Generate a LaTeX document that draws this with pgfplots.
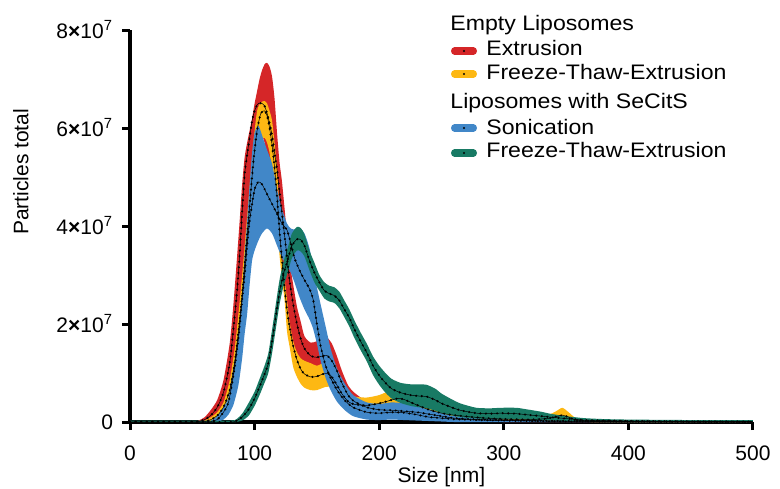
\documentclass[border=0pt]{standalone}
\usepackage{fontspec}
\setmainfont{Liberation Sans}
\usepackage{graphicx}
\usepackage{pgfplots}
\pgfplotsset{compat=1.18}
\usepgfplotslibrary{fillbetween}
\usepackage{pgfplotstable}

\definecolor{cRed}{RGB}{213,38,40}
\definecolor{cYel}{RGB}{253,184,19}
\definecolor{cBlu}{RGB}{65,135,200}
\definecolor{cGrn}{RGB}{24,122,100}

% Extrusion (empty liposomes): x, lower, mean, upper  (units 1e7)
\pgfplotstableread{
x lo mid up
0 0 0 0
50 0 0 0.01
55 0 0.01 0.03
60 0.01 0.05 0.1
65 0.04 0.14 0.25
70 0.1 0.3 0.45
75 0.25 0.6 0.85
80 0.6 1.2 1.6
83 1.0 1.9 2.4
86 1.5 2.7 3.4
88 2.0 3.4 4.1
90 2.6 4.3 4.85
92 3.3 5.05 5.4
94 4.0 5.45 5.7
96 4.6 5.8 5.95
98 5.1 6.15 6.2
100 5.5 6.35 6.5
102 5.75 6.47 6.75
104 5.9 6.51 7.0
106 5.85 6.5 7.18
108 5.7 6.45 7.3
110 5.45 6.3 7.33
112 5.15 6.1 7.25
114 4.8 5.85 7.05
116 4.4 5.5 6.6
118 4.0 5.15 5.9
120 3.6 4.7 5.3
122 3.2 4.25 4.9
125 2.6 3.6 4.1
128 2.0 2.9 3.3
131 1.6 2.4 2.8
134 1.25 2.0 2.35
137 1.0 1.7 2.05
140 0.9 1.5 1.75
145 0.9 1.35 1.62
150 0.95 1.32 1.65
155 1.0 1.35 1.72
158 1.0 1.36 1.73
162 0.9 1.25 1.6
166 0.7 1.05 1.35
170 0.5 0.8 1.05
175 0.3 0.55 0.75
180 0.2 0.42 0.6
190 0.12 0.3 0.42
200 0.1 0.25 0.38
210 0.1 0.24 0.37
220 0.08 0.22 0.35
230 0.06 0.2 0.32
240 0.05 0.16 0.28
250 0.03 0.12 0.2
260 0.02 0.08 0.14
280 0.01 0.05 0.09
300 0 0.04 0.07
320 0 0.03 0.05
350 0 0.02 0.04
400 0 0.01 0.03
450 0 0.01 0.02
500 0 0 0.01
}\redtab

% Freeze-Thaw-Extrusion (empty liposomes)
\pgfplotstableread{
x lo mid up
0 0 0 0
55 0 0 0.01
60 0 0.01 0.03
65 0.02 0.05 0.1
70 0.07 0.13 0.2
75 0.2 0.3 0.4
80 0.45 0.65 0.85
84 0.9 1.2 1.5
87 1.5 1.85 2.2
90 2.2 2.6 3.0
93 3.0 3.5 3.9
96 3.9 4.4 4.8
99 4.8 5.3 5.7
102 5.4 5.95 6.35
105 5.75 6.3 6.52
108 5.8 6.35 6.55
110 5.7 6.25 6.5
112 5.5 6.0 6.35
114 5.1 5.65 6.15
116 4.6 5.2 5.7
118 4.0 4.6 5.15
120 3.4 3.9 4.3
122 2.9 3.3 3.4
124 2.5 2.75 2.95
126 1.85 2.3 2.5
128 1.55 1.95 2.05
131 1.12 1.55 1.65
134 0.92 1.27 1.42
137 0.78 1.08 1.3
140 0.7 0.98 1.25
145 0.65 0.92 1.2
150 0.65 0.93 1.15
155 0.7 0.98 1.2
160 0.72 0.98 1.2
165 0.55 0.8 1.0
170 0.38 0.58 0.78
175 0.25 0.42 0.6
180 0.2 0.36 0.52
190 0.2 0.34 0.5
200 0.22 0.38 0.55
210 0.28 0.45 0.66
215 0.3 0.48 0.72
220 0.28 0.46 0.7
230 0.2 0.35 0.55
240 0.12 0.25 0.4
250 0.08 0.18 0.3
260 0.05 0.14 0.24
280 0.02 0.09 0.16
300 0.01 0.06 0.11
320 0.01 0.05 0.1
335 0.02 0.07 0.14
342 0.04 0.11 0.22
347 0.05 0.14 0.29
352 0.03 0.1 0.2
358 0.01 0.04 0.08
370 0 0.02 0.04
400 0 0.01 0.02
500 0 0 0.01
}\yeltab

% Sonication (liposomes with SeCitS)
\pgfplotstableread{
x lo mid up
0 0 0 0
60 0 0 0
65 0 0.01 0.03
70 0 0.05 0.12
75 0.05 0.2 0.3
79 0.15 0.4 0.5
83 0.35 0.95 1.1
87 0.75 1.7 1.8
90 1.3 2.5 2.6
92 1.8 3.0 3.4
94 2.2 3.6 4.1
96 2.8 4.1 4.85
98 3.3 4.45 5.5
100 3.5 4.75 5.9
103 3.7 4.9 6.05
106 3.85 4.85 5.85
110 3.95 4.65 5.55
114 3.85 4.45 5.27
118 3.6 4.25 4.75
122 3.35 4.05 4.35
126 3.2 3.92 4.05
129 3.05 3.65 3.95
132 2.85 3.35 3.93
136 2.55 3.1 3.96
140 2.3 2.9 3.85
144 2.1 2.72 3.55
147 1.9 2.5 3.15
150 1.6 2.0 2.75
153 1.25 1.55 2.4
157 0.9 1.15 1.95
161 0.65 0.9 1.5
166 0.42 0.66 1.1
172 0.25 0.45 0.8
179 0.12 0.3 0.55
190 0.05 0.2 0.4
200 0.04 0.18 0.37
210 0.05 0.2 0.4
220 0.04 0.19 0.38
230 0.03 0.15 0.32
240 0.02 0.1 0.25
250 0.01 0.08 0.18
260 0 0.06 0.12
280 0 0.04 0.08
300 0 0.03 0.05
350 0 0.01 0.03
400 0 0.01 0.02
500 0 0 0.01
}\blutab

% Freeze-Thaw-Extrusion (liposomes with SeCitS)
\pgfplotstableread{
x lo mid up
0 0 0 0.03
50 0 0 0.03
80 0 0 0.03
85 0 0.02 0.05
90 0.03 0.1 0.17
95 0.12 0.25 0.38
100 0.33 0.48 0.62
104 0.55 0.72 0.88
108 0.8 0.98 1.15
111 1.0 1.2 1.4
114 1.4 1.65 1.88
117 1.9 2.15 2.4
120 2.4 2.65 2.9
123 2.75 3.0 3.25
126 3.0 3.26 3.5
130 3.35 3.6 3.85
134 3.5 3.73 3.98
137 3.48 3.72 3.96
140 3.38 3.6 3.83
144 3.1 3.3 3.5
148 2.85 3.05 3.25
152 2.68 2.85 3.0
156 2.52 2.68 2.85
160 2.46 2.62 2.78
164 2.43 2.58 2.75
168 2.32 2.48 2.66
172 2.14 2.3 2.48
176 1.95 2.13 2.3
180 1.72 1.9 2.08
185 1.47 1.65 1.83
190 1.24 1.42 1.6
195 0.96 1.15 1.34
200 0.76 0.95 1.15
205 0.6 0.8 1.0
210 0.48 0.68 0.88
217 0.39 0.6 0.8
225 0.33 0.55 0.77
232 0.3 0.53 0.77
238 0.28 0.52 0.76
245 0.23 0.45 0.68
250 0.18 0.38 0.58
257 0.14 0.31 0.48
265 0.1 0.24 0.38
278 0.07 0.18 0.29
290 0.06 0.17 0.28
297 0.06 0.18 0.29
310 0.06 0.17 0.29
318 0.05 0.15 0.26
330 0.04 0.12 0.21
337 0.03 0.1 0.17
350 0.02 0.07 0.12
364 0.01 0.04 0.08
380 0 0.03 0.06
400 0 0.02 0.05
450 0 0.01 0.04
500 0 0.01 0.04
}\grntab

\pgfplotsset{
  bandedge/.style={draw=none, smooth, tension=0.4, forget plot},
  meanline/.style={black, line width=0.25pt, smooth, tension=0.4, forget plot},
  meandots/.style={black, line width=1.2pt, line cap=round, dash pattern=on 0pt off 2.8pt, smooth, tension=0.4, forget plot},
}

\newcommand{\lfont}{\fontsize{10.5}{12}\selectfont}

\begin{document}
\begin{tikzpicture}
\begin{axis}[
  scale only axis, width=311.5pt, height=196pt,
  xmin=0, xmax=500, ymin=0, ymax=8,
  axis x line=bottom, axis y line=left,
  axis line style={line width=1.9pt, -},
  tick align=outside, major tick length=4pt,
  every tick/.style={black, line width=1.5pt},
  xtick={0,100,200,300,400,500},
  xticklabels={0,100,200,300,400,500},
  ytick={0,2,4,6,8},
  yticklabels={0,
    2\textbf{×}10\textsuperscript{7},
    4\textbf{×}10\textsuperscript{7},
    6\textbf{×}10\textsuperscript{7},
    8\textbf{×}10\textsuperscript{7}},
  tick label style={font=\lfont},
  xticklabel style={yshift=-4.5pt},
  yticklabel style={xshift=-1pt},
  xlabel={Size [nm]},
  xlabel style={at={(axis description cs:0.5,0)}, anchor=base, yshift=-30pt, font=\lfont},
  ylabel={Particles total},
  ylabel style={at={(axis description cs:-0.175,0.638)}, anchor=center, font=\lfont},
]
% Extrusion (empty)
\addplot[bandedge, name path=rU] table[x=x, y=up] {\redtab};
\addplot[bandedge, name path=rL] table[x=x, y=lo] {\redtab};
\addplot[fill=cRed, draw=none, forget plot] fill between[of=rU and rL];
% FTE (empty)
\addplot[bandedge, name path=yU] table[x=x, y=up] {\yeltab};
\addplot[bandedge, name path=yL] table[x=x, y=lo] {\yeltab};
\addplot[fill=cYel, draw=none, forget plot] fill between[of=yU and yL];
% Sonication
\addplot[bandedge, name path=bU] table[x=x, y=up] {\blutab};
\addplot[bandedge, name path=bL] table[x=x, y=lo] {\blutab};
\addplot[fill=cBlu, draw=none, forget plot] fill between[of=bU and bL];
% FTE (SeCitS)
\addplot[bandedge, name path=gU] table[x=x, y=up] {\grntab};
\addplot[bandedge, name path=gL] table[x=x, y=lo] {\grntab};
\addplot[fill=cGrn, draw=none, forget plot] fill between[of=gU and gL];
% mean lines
\addplot[meanline] table[x=x, y=mid] {\redtab};
\addplot[meandots] table[x=x, y=mid] {\redtab};
\addplot[meanline] table[x=x, y=mid] {\yeltab};
\addplot[meandots] table[x=x, y=mid] {\yeltab};
\addplot[meanline] table[x=x, y=mid] {\blutab};
\addplot[meandots] table[x=x, y=mid] {\blutab};
\addplot[meanline] table[x=x, y=mid] {\grntab};
\addplot[meandots] table[x=x, y=mid] {\grntab};
\end{axis}
% legend
\begin{scope}[every node/.style={anchor=base west, inner sep=0pt, font=\lfont}]
\node at (160pt,196pt) {\scalebox{1.1}[1]{Empty Liposomes}};
\draw[cRed, line width=3.6pt, line cap=round] (162.3pt,185.5pt) -- (171.7pt,185.5pt);
\fill[black] (167pt,185.5pt) circle (0.6pt);
\node at (178pt,183pt) {\scalebox{1.1}[1]{Extrusion}};
\draw[cYel, line width=3.6pt, line cap=round] (162.3pt,174pt) -- (171.7pt,174pt);
\fill[black] (167pt,174pt) circle (0.6pt);
\node at (178pt,171.5pt) {\scalebox{1.1}[1]{Freeze-Thaw-Extrusion}};
\node at (160pt,157pt) {\scalebox{1.1}[1]{Liposomes with SeCitS}};
\draw[cBlu, line width=3.6pt, line cap=round] (162.3pt,147pt) -- (171.7pt,147pt);
\fill[black] (167pt,147pt) circle (0.6pt);
\node at (178pt,144pt) {\scalebox{1.1}[1]{Sonication}};
\draw[cGrn, line width=3.6pt, line cap=round] (162.3pt,134.5pt) -- (171.7pt,134.5pt);
\fill[black] (167pt,134.5pt) circle (0.6pt);
\node at (178pt,132.5pt) {\scalebox{1.1}[1]{Freeze-Thaw-Extrusion}};
\end{scope}
\pgfresetboundingbox
\path[use as bounding box] (-65pt,-33pt) rectangle (325pt,211pt);
\end{tikzpicture}
\end{document}
